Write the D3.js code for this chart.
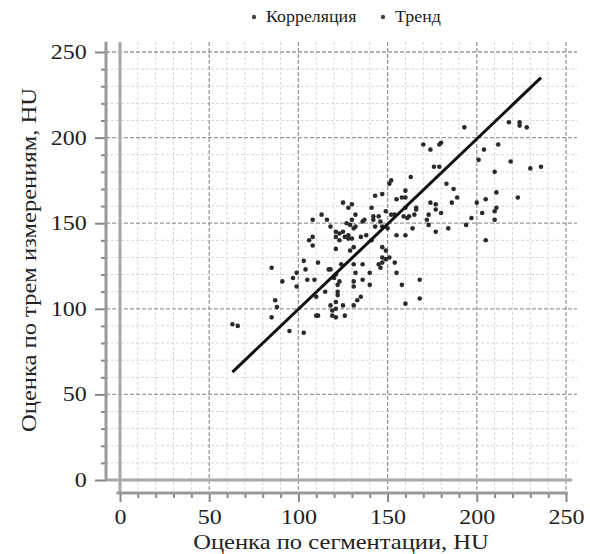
<!DOCTYPE html>
<html>
<head>
<meta charset="utf-8">
<script src="https://cdn.jsdelivr.net/npm/d3@7"></script>
<style>
  html, body { margin: 0; padding: 0; background: #fff; }
  svg text { font-family: "Liberation Serif", "Times New Roman", serif; fill: #222; }
</style>
</head>
<body>
<div id="chart"></div>
<script>
// segmentation estimate (x) and three-measurement estimate (y), HU
var segValues = [193,218,224,224,228,170,180,179,174,212,204,201,219,230,236,176,179,210,163,183,
  187,160,211,189,223,205,155,158,160,174,177,186,200,166,166,211,210,177,180,203,
  173,165,159,161,172,197,210,173,194,184,164,155,160,177,205,154,155,158,168,168,
  160,151,152,143,147,125,130,128,141,113,108,116,132,130,137,136,142,145,149,146,
  118,129,132,143,152,154,160,162,142,147,150,127,131,123,125,128,128,138,141,131,
  147,149,147,151,108,106,108,121,121,123,126,130,135,121,129,147,149,145,146,85,
  103,111,117,118,124,131,136,104,99,97,132,140,121,120,105,109,123,122,131,131,
  136,140,91,99,115,122,122,135,110,133,121,87,88,118,125,131,119,121,111,110,
  119,121,126,85,63,66,95,103];
var threeValues = [206,209,209,207,206,196,197,196,193,196,193,187,186,182,183,183,183,180,177,173,
  170,169,168,165,165,164,164,165,165,162,161,162,162,159,158,159,157,158,156,156,
  155,155,154,153,152,153,152,149,149,147,147,143,143,145,140,127,121,114,117,106,
  103,173,175,166,167,162,161,159,159,155,152,152,155,152,152,151,154,154,157,151,
  148,149,148,148,155,155,159,154,152,148,147,150,147,144,145,141,143,143,140,136,
  136,134,130,130,142,140,137,145,142,140,142,141,142,135,134,127,129,126,124,124,
  128,127,123,123,126,126,126,123,121,118,121,121,120,118,117,117,116,114,116,113,
  117,114,116,113,110,110,108,107,107,105,104,105,101,102,102,102,99,100,96,96,
  96,95,96,95,91,90,87,86];
var trendX = [63, 236];
var trendY = [63, 235];
var tickValues = [0, 50, 100, 150, 200, 250];
var legendLabels = ["Корреляция", "Тренд"];
var xTitle = "Оценка по сегментации, HU";
var yTitle = "Оценка по трем измерениям, HU";

var width = 590, height = 554;

var x = d3.scaleLinear().domain([0, 250]).range([120, 566]);
var y = d3.scaleLinear().domain([0, 250]).range([480, 52]);

var minor = d3.range(0, 251, 10).filter(function(d) { return d % 50 != 0; });

var svg = d3.select("#chart")
  .append("svg")
  .attr("width", width)
  .attr("height", height);

// gridlines, light ones first
var grid = svg.append("g").attr("class", "grid");
grid.selectAll("line.hmin")
  .data(minor).enter().append("line")
  .attr("x1", 106).attr("x2", 577)
  .attr("y1", function(d) { return y(d); }).attr("y2", function(d) { return y(d); })
  .attr("stroke", "#d8d8d8").attr("stroke-width", 1).attr("stroke-dasharray", "3,2");
grid.selectAll("line.vmin")
  .data(minor).enter().append("line")
  .attr("y1", 42).attr("y2", 493)
  .attr("x1", function(d) { return x(d); }).attr("x2", function(d) { return x(d); })
  .attr("stroke", "#d8d8d8").attr("stroke-width", 1).attr("stroke-dasharray", "3,2");
grid.selectAll("line.hmaj")
  .data(tickValues.slice(1)).enter().append("line")
  .attr("x1", 106).attr("x2", 577)
  .attr("y1", function(d) { return y(d); }).attr("y2", function(d) { return y(d); })
  .attr("stroke", "#9a9a9a").attr("stroke-width", 1.3).attr("stroke-dasharray", "4,2");
grid.selectAll("line.vmaj")
  .data(tickValues.slice(1)).enter().append("line")
  .attr("y1", 42).attr("y2", 493)
  .attr("x1", function(d) { return x(d); }).attr("x2", function(d) { return x(d); })
  .attr("stroke", "#9a9a9a").attr("stroke-width", 1.3).attr("stroke-dasharray", "4,2");

// origin lines
svg.append("line")
  .attr("x1", 106).attr("x2", 572)
  .attr("y1", y(0)).attr("y2", y(0))
  .attr("stroke", "#a8a8a8").attr("stroke-width", 3);
svg.append("line")
  .attr("x1", x(0)).attr("x2", x(0))
  .attr("y1", 42).attr("y2", 493)
  .attr("stroke", "#a8a8a8").attr("stroke-width", 3);

// y axis, offset to the left
var yAxis = svg.append("g").attr("transform", "translate(106,0)");
yAxis.call(d3.axisLeft(y).tickValues(tickValues).tickSize(11).tickPadding(5));
yAxis.append("g").call(d3.axisLeft(y).tickValues(minor).tickSize(5).tickFormat(""));
yAxis.selectAll(".domain").remove();
yAxis.selectAll("line").attr("stroke", "#888").attr("stroke-width", 2);
yAxis.selectAll("text")
  .style("font-size", "20px")
  .attr("fill", "#222")
  .attr("transform", "scale(1.2,1)");
yAxis.append("line")
  .attr("x1", 0).attr("x2", 0)
  .attr("y1", y(256)).attr("y2", y(0))
  .attr("stroke", "#999").attr("stroke-width", 3);

// x axis, offset below
var xAxis = svg.append("g").attr("transform", "translate(0,493)");
xAxis.call(d3.axisBottom(x).tickValues(tickValues).tickSize(9).tickPadding(8));
xAxis.append("g").call(d3.axisBottom(x).tickValues(minor).tickSize(5).tickFormat(""));
xAxis.selectAll(".domain").remove();
xAxis.selectAll("line").attr("stroke", "#888").attr("stroke-width", 2);
xAxis.selectAll("text")
  .style("font-size", "20px")
  .attr("fill", "#222")
  .attr("transform", "scale(1.2,1)");
xAxis.append("line")
  .attr("x1", x(-2)).attr("x2", x(251))
  .attr("y1", 0).attr("y2", 0)
  .attr("stroke", "#999").attr("stroke-width", 3);

// points
var points = segValues.map(function(d, i) { return [d, threeValues[i]]; });
svg.append("g").selectAll("circle")
  .data(points).enter().append("circle")
  .attr("cx", function(d) { return x(d[0]); })
  .attr("cy", function(d) { return y(d[1]); })
  .attr("r", 2.3)
  .attr("fill", "#2a2a2a");

// trend
var line = d3.line()
  .x(function(d) { return x(d[0]); })
  .y(function(d) { return y(d[1]); });
svg.append("path")
  .datum(trendX.map(function(d, i) { return [d, trendY[i]]; }))
  .attr("fill", "none")
  .attr("stroke", "#111")
  .attr("stroke-width", 3)
  .attr("d", line);

// axis titles
svg.append("text")
  .attr("text-anchor", "middle")
  .attr("transform", "translate(341,549)scale(1.17,1)")
  .style("font-size", "21px")
  .text(xTitle);
svg.append("text")
  .attr("text-anchor", "middle")
  .attr("transform", "translate(36,260)rotate(-90)scale(1.17,1)")
  .style("font-size", "21px")
  .text(yTitle);

// legend
var legend = svg.append("g").attr("transform", "translate(254,17)");
var lx = [0, 129];
legend.selectAll("circle")
  .data(legendLabels).enter().append("circle")
  .attr("cx", function(d, i) { return lx[i]; })
  .attr("cy", 0)
  .attr("r", 2.2)
  .attr("fill", "#444");
legend.selectAll("text")
  .data(legendLabels).enter().append("text")
  .attr("transform", function(d, i) { return "translate(" + (lx[i] + 12) + ",5)scale(1.12,1)"; })
  .style("font-size", "16px")
  .text(function(d) { return d; });
</script>
</body>
</html>
